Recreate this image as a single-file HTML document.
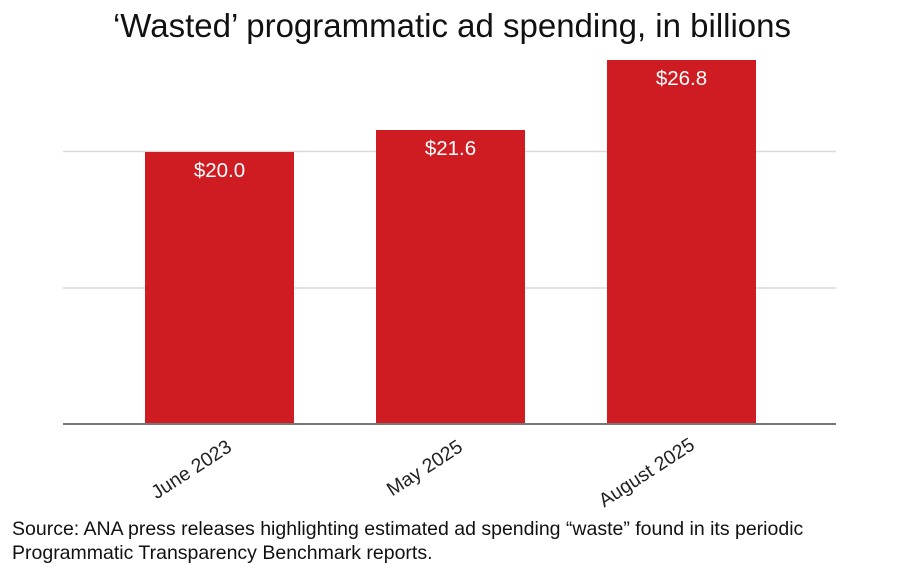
<!DOCTYPE html>
<html><head><meta charset="utf-8"><style>
body{margin:0;background:#fff;}
svg{display:block;font-family:"Liberation Sans",Arial,sans-serif;}
</style></head><body>
<svg width="900" height="564" viewBox="0 0 900 564">
<rect width="900" height="564" fill="#fff"/>
<text x="452" y="37" text-anchor="middle" font-size="33" fill="#111">‘Wasted’ programmatic ad spending, in billions</text>
<line x1="63" y1="151.5" x2="836" y2="151.5" stroke="#d9d9d9" stroke-width="1.5"/>
<line x1="63" y1="288" x2="836" y2="288" stroke="#d9d9d9" stroke-width="1.5"/>
<rect x="145" y="152" width="149" height="272" fill="#cf1b22"/>
<rect x="376" y="130" width="149" height="294" fill="#cf1b22"/>
<rect x="607" y="60" width="149" height="364" fill="#cf1b22"/>
<line x1="63" y1="424" x2="836" y2="424" stroke="#777" stroke-width="2"/>
<g font-size="20.5" fill="#fff" text-anchor="middle">
<text x="219.5" y="177">$20.0</text>
<text x="450.5" y="155">$21.6</text>
<text x="681.5" y="85">$26.8</text>
</g>
<g font-size="19.5" fill="#222" text-anchor="end">
<text transform="translate(233,450) rotate(-33)">June 2023</text>
<text transform="translate(464,450) rotate(-33)">May 2025</text>
<text transform="translate(696,448) rotate(-33)">August 2025</text>
</g>
<g font-size="19.5" fill="#111">
<text x="12" y="535">Source: ANA press releases highlighting estimated ad spending “waste” found in its periodic</text>
<text x="12" y="559">Programmatic Transparency Benchmark reports.</text>
</g>
</svg>
</body></html>
